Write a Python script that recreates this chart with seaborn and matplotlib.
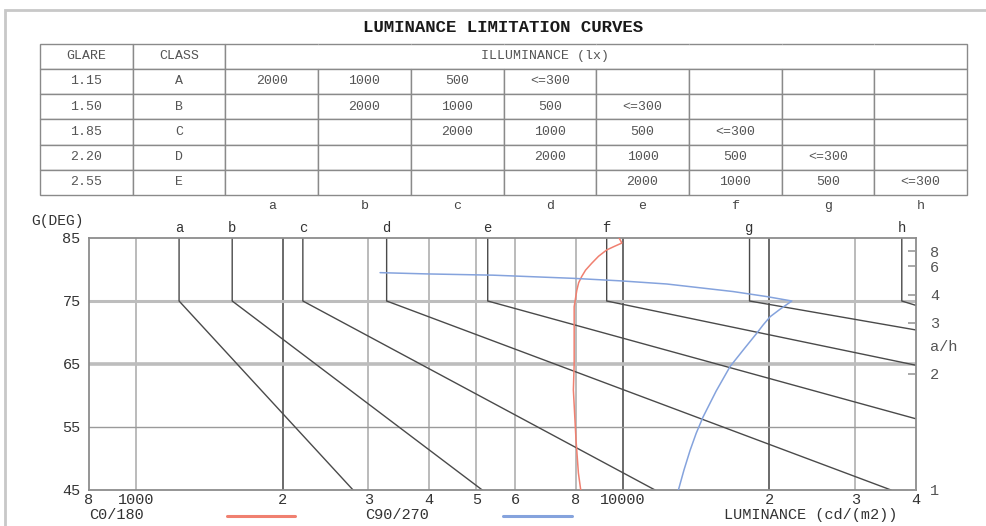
"""Luminance limitation curves (Soellner glare diagram)."""
import numpy as np
import pandas as pd
import matplotlib
matplotlib.use('Agg')
import matplotlib.pyplot as plt
import seaborn as sns
from matplotlib.lines import Line2D
from matplotlib.patches import Rectangle

# glare class table
glare = ['1.15', '1.50', '1.85', '2.20', '2.55']
classes = ['A', 'B', 'C', 'D', 'E']
illum_steps = ['2000', '1000', '500', '<=300']
curve_names = ['a', 'b', 'c', 'd', 'e', 'f', 'g', 'h']

# limitation curves: vertical from 85 to 75 deg, then straight to the end point
lum_75 = [1225, 1575, 2200, 3270, 5275, 9260, 18200, 37400]
end_lum = [2790, 5140, 11640, 35550, 40000, 40000, 40000, 40000]
end_deg = [45, 45, 45, 45, 56.3, 64.8, 70.4, 74.3]

# luminance of the luminaire, C0/180 plane
c0_lum = [8190, 8100, 8010, 7910, 7940, 7940, 7940, 8040, 8110, 8230, 8380, 8630,
          8910, 9260, 9590, 9950, 9820]
c0_deg = [45, 47.7, 52.9, 60.9, 65, 71.5, 74.1, 76.7, 77.9, 78.9, 79.9, 81.0,
          82.1, 83.1, 83.65, 84.2, 85]

# luminance of the luminaire, C90/270 plane
c90_lum = [3170, 3950, 5410, 7900, 9870, 12300, 16840, 19750, 22230,
           21030, 20060, 19410, 18840, 17740, 16600, 15540, 14610, 14140,
           13740, 13350, 13000]
c90_deg = [79.5, 79.3, 79.1, 78.6, 78.2, 77.7, 76.5, 75.7, 75.0,
           73.7, 72.5, 71.2, 69.9, 67.4, 64.6, 60.7, 56.6, 54.0,
           51.3, 48.2, 45]

# axes
lum_ticks = [800, 1000, 2000, 3000, 4000, 5000, 6000, 8000, 10000, 20000, 30000, 40000]
lum_ticklabels = ['8', '1000', '2', '3', '4', '5', '6', '8', '10000', '2', '3', '4']
dark_grid = [2000, 10000, 20000]
deg_ticks = [45, 55, 65, 75, 85]
ah_ratio = [1, 2, 3, 4, 6, 8]

sns.set_style('white')
plt.rcParams['font.family'] = ['Liberation Mono', 'DejaVu Sans']

W, H = 986, 526
fig = plt.figure(figsize=(W / 100, H / 100), dpi=100)

# light frame round the whole sheet
fig.add_artist(Rectangle((5 / W, -0.1), 1.2, 1 - 10 / H + 0.1, transform=fig.transFigure,
                         fill=False, edgecolor='#c8c8c8', lw=2))

fig.text(503 / W, 1 - 28 / H, 'LUMINANCE LIMITATION CURVES', ha='center', va='center',
         fontsize=12.5, fontweight='bold', color='#1a1a1a')

# ---- table ----
ax_tab = fig.add_axes([40 / W, 1 - 195 / H, 927 / W, 151.5 / H])
ax_tab.axis('off')
cells = [['GLARE', 'CLASS'] + [''] * 8]
for i, (g, c) in enumerate(zip(glare, classes)):
    row = [g, c] + [''] * 8
    for j, s in enumerate(illum_steps):
        row[2 + i + j] = s
    cells.append(row)
tab = ax_tab.table(cellText=cells, bbox=[0, 0, 1, 1], cellLoc='center')
tab.auto_set_font_size(False)
tab.set_fontsize(9.5)
for (r, c), cell in tab.get_celld().items():
    cell.set_edgecolor('#8a8a8a')
    cell.set_linewidth(1)
    cell.get_text().set_color('#555')
    if r == 0 and c >= 2:
        cell.visible_edges = 'LTB' if c == 2 else ('RTB' if c == 9 else 'TB')
ax_tab.text(545 / 927 - 40 / 927, 1 - 0.5 / 6, 'ILLUMINANCE (lx)', ha='center', va='center',
            fontsize=9.5, color='#555', transform=ax_tab.transAxes)
for k, name in enumerate(curve_names):
    ax_tab.text((k + 2.5) / 10, -11 / 151.5, name, ha='center', va='center',
                fontsize=9.5, color='#444', transform=ax_tab.transAxes)

# ---- diagram ----
ax = fig.add_axes([89 / W, 1 - 490 / H, 827 / W, 252 / H])
ax.set_xscale('log')
ax.set_xlim(800, 40000)
ax.set_ylim(45, 85)

for l in lum_ticks[1:-1]:
    if l in dark_grid:
        ax.axvline(l, color='#6a6a6a', lw=1.4, zorder=1)
    else:
        ax.axvline(l, color='#a8a8a8', lw=1.1, zorder=1)
ax.axhline(75, color='#bdbdbd', lw=2.2, zorder=1)
ax.axhline(65, color='#bdbdbd', lw=2.6, zorder=1)
ax.axhline(55, color='#9a9a9a', lw=1.0, zorder=1)

rows = []
for name, l75, el, ed in zip(curve_names, lum_75, end_lum, end_deg):
    for k, (x, y) in enumerate([(l75, 85), (l75, 75), (el, ed)]):
        rows.append({'curve': name, 'k': k, 'lum': x, 'deg': y})
limits = pd.DataFrame(rows)
sns.lineplot(data=limits, x='lum', y='deg', units='curve', estimator=None, sort=False,
             color='#4a4a4a', lw=1.0, ax=ax, zorder=2)

sns.lineplot(x=c0_lum, y=c0_deg, sort=False, estimator=None, color='#f08070', lw=1.1,
             ax=ax, zorder=3)
sns.lineplot(x=c90_lum, y=c90_deg, sort=False, estimator=None, color='#85a3dd', lw=1.1,
             ax=ax, zorder=3)

for name, l75 in zip(curve_names, lum_75):
    ax.annotate(name, (l75, 85), xytext=(0, 2), textcoords='offset points',
                ha='center', va='bottom', fontsize=10, color='#333', annotation_clip=False)

ax.set_xticks(lum_ticks)
ax.set_xticklabels(lum_ticklabels)
ax.xaxis.set_minor_locator(matplotlib.ticker.NullLocator())
ax.set_yticks(deg_ticks)
ax.set_yticklabels([str(d) for d in deg_ticks])
ax.tick_params(axis='x', length=0, pad=2, labelsize=11, labelcolor='#333')
ax.tick_params(axis='y', length=0, pad=6, labelsize=11, labelcolor='#333')
ax.set(xlabel='', ylabel='')
for sp in ax.spines.values():
    sp.set_color('#8c8c8c')
    sp.set_linewidth(1.3)

# a/h scale on the right
ax2 = ax.twinx()
ax2.set_ylim(45, 85)
ax2.set_yticks(np.degrees(np.arctan(ah_ratio)))
ax2.set_yticklabels([str(r) for r in ah_ratio])
ax2.tick_params(axis='y', direction='in', length=6, width=1.2, color='#999',
                pad=10, labelsize=11, labelcolor='#555')
for sp in ax2.spines.values():
    sp.set_visible(False)
ax2.set(ylabel='')

fig.text(930 / W, 1 - 347 / H, 'a/h', ha='left', va='center', fontsize=11, color='#555')
fig.text(58 / W, 1 - 221 / H, 'G(DEG)', ha='center', va='center', fontsize=10.5, color='#333')

# legend row under the diagram
fig.text(89 / W, 1 - 515 / H, 'C0/180', ha='left', va='center', fontsize=11, color='#333')
fig.add_artist(Line2D([227 / W, 295 / W], [1 - 516 / H] * 2, color='#f08070', lw=2.2))
fig.text(365 / W, 1 - 515 / H, 'C90/270', ha='left', va='center', fontsize=11, color='#333')
fig.add_artist(Line2D([503 / W, 572 / W], [1 - 516 / H] * 2, color='#85a3dd', lw=2.2))
fig.text(811 / W, 1 - 515 / H, 'LUMINANCE (cd/(m2))', ha='center', va='center',
         fontsize=11, color='#333')

fig.savefig('out.png', dpi=100)
